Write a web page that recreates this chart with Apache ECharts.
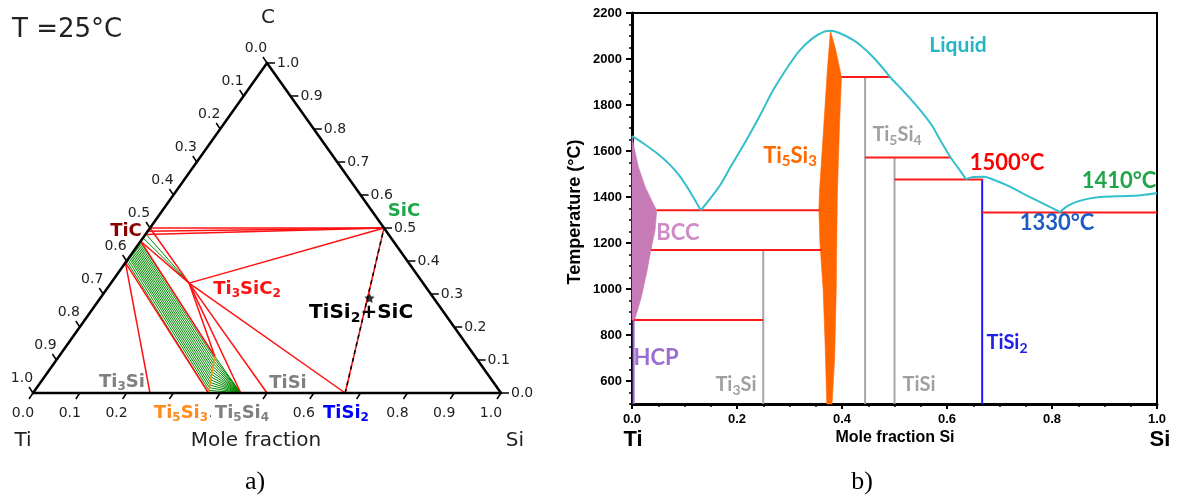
<!DOCTYPE html>
<html><head><meta charset="utf-8">
<script src="https://cdn.jsdelivr.net/npm/echarts@6/dist/echarts.min.js"></script>
<style>html,body{margin:0;padding:0;background:#fff}#c{width:1180px;height:501px}</style>
</head><body><div id="c"></div>
<script>
// ================= (a) Ternary Ti–Si–C at 25 °C — compositions as [xSi, xC] =================
const ternTickValues = [0, 0.1, 0.2, 0.3, 0.4, 0.5, 0.6, 0.7, 0.8, 0.9, 1.0];
const ternTickLabels = ['0.0','0.1','0.2','0.3','0.4','0.5','0.6','0.7','0.8','0.9','1.0'];
const triangleEdges = [[[0,0],[1,0]], [[1,0],[0,1]], [[0,1],[0,0]]];
const redTies = [
  [[0,0.500],[0.5,0.5]], [[0,0.490],[0.5,0.5]], [[0,0.480],[0.5,0.5]],
  [[0.167,0.333],[0.5,0.5]],
  [[0,0.500],[0.167,0.333]], [[0,0.460],[0.167,0.333]],
  [[0,0.460],[0.333,0.111]],
  [[0.167,0.333],[0.333,0.111]], [[0.167,0.333],[0.444,0]],
  [[0.167,0.333],[0.5,0]], [[0.167,0.333],[0.667,0]],
  [[0,0.395],[0.25,0]], [[0,0.395],[0.375,0]]
];
const greenTies = [
  [[0,0.400],[0.375,0.000]], [[0,0.405],[0.372,0.008]], [[0,0.410],[0.369,0.016]],
  [[0,0.414],[0.366,0.024]], [[0,0.418],[0.363,0.032]], [[0,0.422],[0.360,0.040]],
  [[0,0.426],[0.357,0.048]], [[0,0.430],[0.354,0.056]], [[0,0.434],[0.351,0.064]],
  [[0,0.438],[0.348,0.072]], [[0,0.442],[0.345,0.080]], [[0,0.446],[0.342,0.088]],
  [[0,0.450],[0.339,0.096]], [[0,0.454],[0.336,0.104]], [[0,0.458],[0.333,0.111]],
  [[0,0.470],[0.167,0.333]], [[0,0.482],[0.167,0.333]]
];
const greenFan = [
  [[0.372,0.008],[0.444,0]], [[0.369,0.016],[0.444,0]], [[0.366,0.024],[0.444,0]],
  [[0.363,0.032],[0.444,0]], [[0.360,0.040],[0.444,0]], [[0.357,0.048],[0.444,0]],
  [[0.354,0.056],[0.444,0]], [[0.351,0.064],[0.444,0]], [[0.348,0.072],[0.444,0]],
  [[0.345,0.080],[0.444,0]], [[0.342,0.088],[0.444,0]], [[0.339,0.096],[0.444,0]],
  [[0.336,0.104],[0.444,0]], [[0.333,0.111],[0.444,0]]
];
const orangeTi5Si3Cx = [[[0.375,0],[0.333,0.111]]];
const dashedTie = [[[0.667,0],[0.5,0.5]]];
const starPoint = [0.575, 0.288];

// ================= (b) Binary Ti–Si phase diagram =================
const binXTickValues = [0, 0.2, 0.4, 0.6, 0.8, 1.0];
const binXTickLabels = ['0.0','0.2','0.4','0.6','0.8','1.0'];
const binYTickValues = [600, 800, 1000, 1200, 1400, 1600, 1800, 2000, 2200];
const binYTickLabels = ['600','800','1000','1200','1400','1600','1800','2000','2200'];
const liqA = [[0,1665],[0.02,1636],[0.047,1591],[0.07,1545],[0.09,1494],[0.11,1425],[0.131,1342]];
const liqB = [[0.131,1342],[0.15,1396],[0.168,1452],[0.19,1540],[0.218,1648],[0.245,1760],[0.269,1865],
  [0.295,1960],[0.32,2039],[0.345,2092],[0.365,2118],[0.378,2123],[0.395,2113],[0.421,2083],[0.44,2050],
  [0.459,2009],[0.475,1968],[0.491,1923],[0.52,1853],[0.549,1778],[0.57,1715],[0.587,1648],[0.606,1575],
  [0.621,1527],[0.636,1478]];
const liqC = [[0.636,1478],[0.65,1487],[0.669,1488],[0.69,1474],[0.72,1445],[0.745,1415],[0.771,1385],[0.795,1358],[0.815,1334]];
const liqD = [[0.815,1334],[0.83,1361],[0.848,1380],[0.87,1393],[0.891,1400],[0.92,1403],[0.943,1404],[0.97,1408],[1.0,1416]];
const isotherms = [
  [[0.047,1342],[0.357,1342]], [[0.036,1170],[0.361,1170]], [[0.004,865],[0.25,865]],
  [[0.399,1922],[0.491,1922]], [[0.444,1572],[0.606,1572]], [[0.5,1476],[0.669,1476]],
  [[0.667,1333],[1.0,1333]]
];
const grayLines = [[[0.25,500],[0.25,1170]], [[0.444,500],[0.444,1922]], [[0.5,500],[0.5,1572]]];
const tisi2Line = [[[0.667,500],[0.667,1476]]];
const hcpLine = [[[0.003,500],[0.003,865]]];
const bccRegion = [[0,1665],[0.005,1605],[0.012,1532],[0.025,1445],[0.038,1382],[0.047,1342],[0.044,1257],
  [0.036,1170],[0.029,1083],[0.018,966],[0.005,865],[0,865]];
const ti5si3Region = [[0.378,2123],[0.372,1950],[0.365,1700],[0.357,1420],[0.356,1342],[0.358,1200],[0.364,1000],
  [0.368,750],[0.371,500],[0.381,500],[0.386,700],[0.389,1000],[0.391,1400],[0.395,1700],[0.399,1922],[0.388,2040]];

// ================= helpers =================
const tern = p => [p[0] + 0.5 * p[1], p[1]];
function segSeries(list, conv, xi, yi, style, z) {
  return {
    type: 'custom', xAxisIndex: xi, yAxisIndex: yi, z: z || 2, silent: true, animation: false, clip: false,
    data: list.map(s => { const a = conv(s[0]), b = conv(s[1]); return [a[0], a[1], b[0], b[1]]; }),
    encode: { x: [0, 2], y: [1, 3] },
    renderItem: (params, api) => {
      const p1 = api.coord([api.value(0), api.value(1)]);
      const p2 = api.coord([api.value(2), api.value(3)]);
      return { type: 'line', shape: { x1: p1[0], y1: p1[1], x2: p2[0], y2: p2[1] }, style: Object.assign({ fill: null }, style) };
    }
  };
}
function polySeries(pts, fill, xi, yi, z) {
  return {
    type: 'custom', xAxisIndex: xi, yAxisIndex: yi, z: z || 1, silent: true, animation: false,
    data: pts, encode: { x: 0, y: 1 },
    renderItem: (params, api) => {
      if (params.dataIndex !== 0) return null;
      return { type: 'polygon', shape: { points: pts.map(p => api.coord(p)) }, style: { fill: fill, stroke: fill, lineWidth: 0.6 } };
    }
  };
}
const ident = p => p;
function chem(str, size, subSize, weight, family, color) {
  const parts = str.split(/(_\d)/).filter(s => s.length);
  const text = parts.map(p => p[0] === '_' ? '{s|' + p.slice(1) + '}' : '{n|' + p + '}').join('');
  const lh = Math.round(size * 1.2);
  return {
    text: text,
    rich: {
      n: { fontSize: size, fontWeight: weight, fontFamily: family, fill: color, lineHeight: lh },
      s: { fontSize: subSize, fontWeight: weight, fontFamily: family, fill: color, lineHeight: subSize, verticalAlign: 'bottom' }
    }
  };
}
function label(x, y, str, size, weight, family, color, opts) {
  opts = opts || {};
  const c = chem(str, size, Math.round(size * 0.68), weight, family, color);
  const align = opts.align || 'center';
  const style = {
    text: c.text, rich: c.rich, fill: color,
    font: weight + ' ' + size + 'px ' + family,
    align: align, verticalAlign: 'middle', textAlign: align, textVerticalAlign: 'middle'
  };
  if (opts.bg) { style.backgroundColor = '#fff'; style.padding = [0, 2, 0, 2]; }
  return { type: 'text', x: x, y: y, rotation: opts.rotation || 0, silent: true, z: 100, style: style };
}
const DJ = '"DejaVu Sans"', LA = 'Lato', LS = '"Liberation Sans"', SERIF = '"Liberation Serif"';

const ternTickData = [];
ternTickValues.forEach((v, i) => {
  const b = tern([v, 0]); ternTickData.push([b[0], b[1], 0, i]);       // bottom: Si fraction
  const l = tern([0, 1 - v]); ternTickData.push([l[0], l[1], 1, i]);   // left: Ti fraction
  const r = tern([1 - v, v]); ternTickData.push([r[0], r[1], 2, i]);   // right: C fraction
});

const chart = echarts.init(document.getElementById('c'));
chart.setOption({
  animation: false,
  backgroundColor: '#fff',
  grid: [
    { left: 33, top: 63, width: 468, height: 330, show: false },
    { left: 632, top: 13, width: 525, height: 391, show: true, borderColor: '#000', borderWidth: 2, backgroundColor: 'transparent' }
  ],
  xAxis: [
    { gridIndex: 0, type: 'value', min: 0, max: 1, show: false },
    { gridIndex: 1, type: 'value', min: 0, max: 1, interval: 0.2,
      axisLine: { show: true, onZero: false, lineStyle: { color: '#000', width: 3 } },
      axisTick: { show: true, length: 5, lineStyle: { color: '#000', width: 2 } },
      minorTick: { show: true, splitNumber: 4, length: 3, lineStyle: { color: '#000', width: 1.5 } },
      splitLine: { show: false }, minorSplitLine: { show: false },
      axisLabel: { margin: 9, color: '#000', fontWeight: 'bold', fontSize: 13, fontFamily: 'Liberation Sans',
        formatter: v => binXTickLabels[Math.round(v / 0.2)] } }
  ],
  yAxis: [
    { gridIndex: 0, type: 'value', min: 0, max: 1, show: false },
    { gridIndex: 1, type: 'value', min: 500, max: 2200, interval: 100, position: 'left',
      axisLine: { show: true, onZero: false, lineStyle: { color: '#000', width: 3 } },
      axisTick: { show: true, length: 6, customValues: binYTickValues, lineStyle: { color: '#000', width: 2 } },
      splitLine: { show: false },
      axisLabel: { customValues: binYTickValues, margin: 10, color: '#000', fontWeight: 'bold', fontSize: 13, fontFamily: 'Liberation Sans',
        formatter: v => binYTickLabels[binYTickValues.indexOf(v)] } },
    { gridIndex: 1, type: 'value', min: 500, max: 2200, interval: 50, position: 'left', offset: 0,
      axisLine: { show: false }, axisLabel: { show: false }, splitLine: { show: false },
      axisTick: { show: true, length: 3, lineStyle: { color: '#000', width: 1.5 } } }
  ],
  series: [
    segSeries(greenTies, tern, 0, 0, { stroke: '#008a00', lineWidth: 1 }, 3),
    segSeries(greenFan, tern, 0, 0, { stroke: '#008a00', lineWidth: 1 }, 3),
    segSeries(redTies, tern, 0, 0, { stroke: '#ff1010', lineWidth: 1.5 }, 4),
    segSeries(orangeTi5Si3Cx, tern, 0, 0, { stroke: '#ff8c1a', lineWidth: 1.5 }, 5),
    segSeries(dashedTie, tern, 0, 0, { stroke: '#ff1010', lineWidth: 1.5 }, 4),
    segSeries(dashedTie, tern, 0, 0, { stroke: '#000', lineWidth: 1.5, lineDash: [4, 4] }, 5),
    segSeries(triangleEdges, tern, 0, 0, { stroke: '#000', lineWidth: 2.5, lineCap: 'round' }, 6),
    {
      type: 'custom', xAxisIndex: 0, yAxisIndex: 0, z: 6, silent: true, animation: false, clip: false,
      data: ternTickData, encode: { x: 0, y: 1 },
      renderItem: (params, api) => {
        const p = api.coord([api.value(0), api.value(1)]);
        const side = api.value(2); const lab = ternTickLabels[api.value(3)];
        let d, lp, align;
        if (side === 0) { d = [-4, 6]; lp = [p[0] - 10, p[1] + 20]; align = 'center'; }
        else if (side === 1) { d = [-4, -6]; lp = [p[0] - 11, p[1] - 15]; align = 'center'; }
        else { d = [8, 0]; lp = [p[0] + 10, p[1]]; align = 'left'; }
        return { type: 'group', children: [
          { type: 'line', shape: { x1: p[0], y1: p[1], x2: p[0] + d[0], y2: p[1] + d[1] }, style: { stroke: '#000', lineWidth: 1.5 } },
          { type: 'text', x: lp[0], y: lp[1], style: { text: lab, fill: '#222', font: '14px "DejaVu Sans"', align: align, verticalAlign: 'middle', textAlign: align, textVerticalAlign: 'middle' } }
        ] };
      }
    },
    { type: 'scatter', xAxisIndex: 0, yAxisIndex: 0, z: 7, silent: true, animation: false,
      data: [tern(starPoint)],
      symbol: 'path://M0,-10L2.9,-4L9.5,-3.1L4.8,1.5L5.9,8.1L0,5L-5.9,8.1L-4.8,1.5L-9.5,-3.1L-2.9,-4Z',
      symbolSize: 10, itemStyle: { color: '#000' } },
    polySeries(bccRegion, '#c77bb6', 1, 1, 1),
    polySeries(ti5si3Region, '#ff6600', 1, 1, 1),
    segSeries(grayLines, ident, 1, 1, { stroke: '#a6a6a6', lineWidth: 2 }, 2),
    segSeries(hcpLine, ident, 1, 1, { stroke: '#9966cc', lineWidth: 2 }, 2),
    segSeries(tisi2Line, ident, 1, 1, { stroke: '#1a1aff', lineWidth: 2 }, 3),
    segSeries(isotherms, ident, 1, 1, { stroke: '#ff1a1a', lineWidth: 2 }, 3),
    ...[liqA, liqB, liqC, liqD].map(d => ({
      type: 'line', xAxisIndex: 1, yAxisIndex: 1, data: d, smooth: 0.35, showSymbol: false, z: 4,
      silent: true, animation: false, lineStyle: { color: '#33bfcc', width: 2 }
    }))
  ],
  graphic: { elements: [
    label(12, 30, 'T =25°C', 26, 'normal', DJ, '#222', { align: 'left' }),
    label(268, 18, 'C', 20, 'normal', DJ, '#222'),
    label(23, 441, 'Ti', 20, 'normal', DJ, '#222'),
    label(515, 441, 'Si', 20, 'normal', DJ, '#222'),
    label(256, 441, 'Mole fraction', 20, 'normal', DJ, '#222'),
    label(126, 231, 'TiC', 18, 'bold', DJ, '#8b0000'),
    label(404, 211, 'SiC', 18, 'bold', DJ, '#1ea64a'),
    label(247, 289, 'Ti_3SiC_2', 18, 'bold', DJ, '#ff1010'),
    label(361, 313, 'TiSi_2+SiC', 20, 'bold', DJ, '#000'),
    label(122, 382, 'Ti_3Si', 18, 'bold', DJ, '#808080'),
    label(288, 383, 'TiSi', 18, 'bold', DJ, '#808080'),
    label(181, 413, 'Ti_5Si_3', 18, 'bold', DJ, '#ff8c1a', { bg: true }),
    label(242, 413, 'Ti_5Si_4', 18, 'bold', DJ, '#808080', { bg: true }),
    label(346, 413, 'TiSi_2', 18, 'bold', DJ, '#0000ff', { bg: true }),
    label(958, 45, 'Liquid', 21, 'bold', LA, '#25b5c5'),
    label(790, 156, 'Ti_5Si_3', 22, 'bold', LA, '#ff6a00'),
    label(897, 135, 'Ti_5Si_4', 20, 'bold', LA, '#a0a0a0'),
    label(1007, 163, '1500°C', 22, 'bold', LA, '#ff0000'),
    label(1119, 181, '1410°C', 22, 'bold', LA, '#1fa64a'),
    label(1057, 223, '1330°C', 22, 'bold', LA, '#1f5bc4'),
    label(678, 233, 'BCC', 22, 'bold', LA, '#d08bc6'),
    label(656, 358, 'HCP', 22, 'bold', LA, '#9b6dd0'),
    label(736, 385, 'Ti_3Si', 20, 'bold', LA, '#a0a0a0'),
    label(919, 385, 'TiSi', 20, 'bold', LA, '#a0a0a0'),
    label(1007, 343, 'TiSi_2', 20, 'bold', LA, '#2020ee'),
    label(575, 212, 'Temperature (°C)', 18, 'bold', LS, '#000', { rotation: Math.PI / 2 }),
    label(895, 438, 'Mole fraction Si', 16, 'bold', LS, '#000'),
    label(633, 440, 'Ti', 22, 'bold', LS, '#000'),
    label(1160, 440, 'Si', 22, 'bold', LS, '#000'),
    label(255, 482, 'a)', 26, 'normal', SERIF, '#000'),
    label(862, 482, 'b)', 26, 'normal', SERIF, '#000')
  ] }
});
</script>
</body></html>
